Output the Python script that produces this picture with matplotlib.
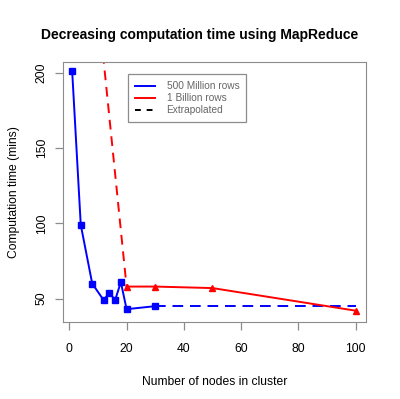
import matplotlib.pyplot as plt
import numpy as np
from matplotlib.lines import Line2D

plt.rcParams['font.family'] = ['Liberation Sans', 'DejaVu Sans']

# 500 million rows
nodes_500 = [1, 4, 8, 12, 14, 16, 18, 20, 30]
time_500 = [201, 99, 60, 49, 54, 49, 61, 43, 45]
# extrapolation of 500 million rows
nodes_500_ext = [30, 100]
time_500_ext = [45, 45]

# 1 billion rows
nodes_1b = [20, 30, 50, 100]
time_1b = [58, 58, 57, 42]
# extrapolation of 1 billion rows
nodes_1b_ext = [10, 20]
time_1b_ext = [245, 58]

gris = '#8c8c8c'

fig = plt.figure(figsize=(4.0, 3.99), dpi=100)
ax = fig.add_axes([0.1575, 0.193, 0.7575, 0.6516])

ax.plot(nodes_500, time_500, color='blue', lw=1.4, marker='s', ms=4.3)
ax.plot(nodes_500_ext, time_500_ext, color='blue', lw=1.4, ls=(0, (5.5, 3.5)))
ax.plot(nodes_1b, time_1b, color='red', lw=1.4, marker='^', ms=4.8)
ax.plot(nodes_1b_ext, time_1b_ext, color='red', lw=1.4, ls=(0, (5, 3.5)))

ax.set_xlim(-2.2, 103.6)
ax.set_ylim(34.5, 207)
ax.set_xticks([0, 20, 40, 60, 80, 100])
ax.set_yticks([50, 100, 150, 200])
ax.set_yticklabels(['50', '100', '150', '200'], rotation=90, va='center')

for s in ax.spines.values():
    s.set_color(gris)
ax.tick_params(colors=gris, labelcolor='black', length=6, width=0.9,
               labelsize=8.7)
ax.tick_params(axis='x', pad=9)
ax.tick_params(axis='y', pad=5)

ax.set_xlabel('Number of nodes in cluster', fontsize=8.7, labelpad=15)
ax.set_ylabel('Computation time (mins)', fontsize=8.7, labelpad=11)
fig.suptitle('Decreasing computation time using MapReduce', fontsize=10,
             fontweight='bold', y=0.93)

handles = [Line2D([], [], color='blue', lw=1.4),
           Line2D([], [], color='red', lw=1.4),
           Line2D([], [], color='black', lw=1.4, ls=(0, (3, 3)))]
leg = ax.legend(handles, ['500 Million rows', '1 Billion rows', 'Extrapolated'],
                loc='upper left', bbox_to_anchor=(0.2145, 0.954), fontsize=7.3,
                fancybox=False, framealpha=1, edgecolor=gris, handlelength=2.0,
                handletextpad=1.1, borderpad=0.7, labelspacing=0.2,
                borderaxespad=0)
leg.get_frame().set_linewidth(0.9)
for t in leg.get_texts():
    t.set_color('#666666')

fig.savefig('out.png', dpi=100)
